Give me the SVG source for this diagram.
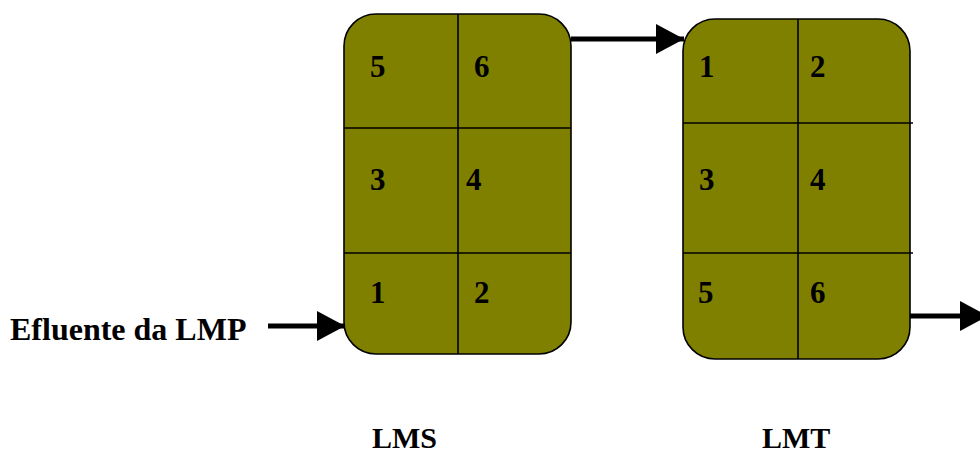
<svg xmlns="http://www.w3.org/2000/svg" width="980" height="456" viewBox="0 0 980 456">
<style>
.box{fill:#808000;stroke:#000;stroke-width:1.6}
.div{stroke:#000;stroke-width:1.6;fill:none}
.t{font-family:"Liberation Serif","Times New Roman",serif;font-weight:bold;fill:#000}
.n{font-size:31px}
.lab{font-size:30px}
.conn{stroke:#000;stroke-width:5;fill:none}
</style>
<defs>
<marker id="ah" markerUnits="userSpaceOnUse" markerWidth="30" markerHeight="30" refX="28" refY="15" orient="auto" viewBox="0 0 30 30">
<path d="M0,0 L28,15 L0,30 Z" fill="#000"/>
</marker>
</defs>
<g id="LMS">
<rect class="box" x="344" y="14" width="227" height="340" rx="32" ry="32"/>
<line class="div" x1="458" y1="14" x2="458" y2="354"/>
<line class="div" x1="344" y1="128" x2="571" y2="128"/>
<line class="div" x1="344" y1="253" x2="571" y2="253"/>
<text class="t n" x="370" y="77">5</text>
<text class="t n" x="474" y="77">6</text>
<text class="t n" x="370" y="190">3</text>
<text class="t n" x="466" y="190">4</text>
<text class="t n" x="370" y="303">1</text>
<text class="t n" x="474" y="303">2</text>
</g>
<g id="LMT">
<rect class="box" x="683" y="19" width="227" height="340" rx="32" ry="32"/>
<line class="div" x1="798" y1="19" x2="798" y2="359"/>
<line class="div" x1="683" y1="123" x2="913" y2="123"/>
<line class="div" x1="683" y1="253" x2="913" y2="253"/>
<text class="t n" x="699" y="77">1</text>
<text class="t n" x="810" y="77">2</text>
<text class="t n" x="699" y="190">3</text>
<text class="t n" x="810" y="190">4</text>
<text class="t n" x="698" y="303">5</text>
<text class="t n" x="810" y="303">6</text>
</g>
<g id="labels">
<text class="t" x="10" y="340" font-size="32">Efluente da LMP</text>
<text class="t lab" x="372" y="448">LMS</text>
<text class="t lab" x="762" y="448">LMT</text>
</g>
<g id="connectors">
<line class="conn" x1="268" y1="326" x2="345" y2="326" marker-end="url(#ah)"/>
<line class="conn" x1="571" y1="39" x2="684" y2="39" marker-end="url(#ah)"/>
<line class="conn" x1="910" y1="316" x2="988" y2="316" marker-end="url(#ah)"/>
</g>
</svg>
